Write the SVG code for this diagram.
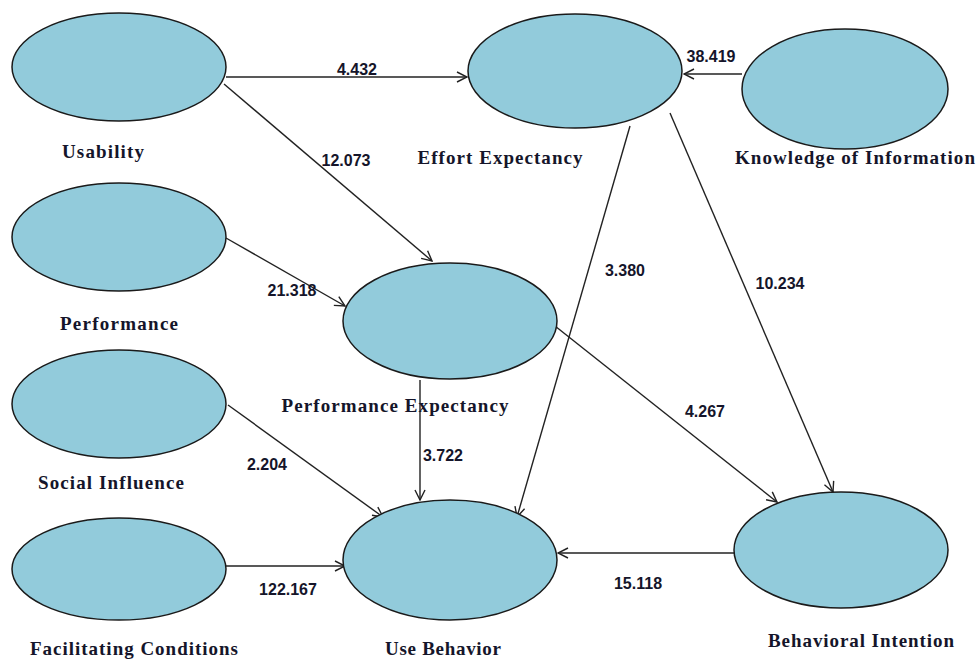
<svg xmlns="http://www.w3.org/2000/svg" width="979" height="660" viewBox="0 0 979 660">
<style>
.node ellipse{fill:#92cbdb;stroke:#1a1a1a;stroke-width:1.5}
.name{font-family:"Liberation Serif",serif;font-weight:bold;font-size:19px;fill:#15152a;text-anchor:middle}
.num{font-family:"Liberation Sans",sans-serif;font-weight:bold;font-size:16px;fill:#15152a;text-anchor:middle}
.edge line{stroke:#222;stroke-width:1.4;marker-end:url(#arr)}
</style>
<defs>
<marker id="arr" viewBox="0 0 12 12" refX="11" refY="6" markerWidth="12" markerHeight="12" markerUnits="userSpaceOnUse" orient="auto">
<path d="M1,1 L11,6 L1,11" fill="none" stroke="#222" stroke-width="1.4"/>
</marker>
</defs>
<rect width="979" height="660" fill="#fff"/>
<g id="connectors" class="edge">
<line x1="226" y1="77" x2="467" y2="77"/>
<line x1="224" y1="84" x2="432" y2="261"/>
<line x1="226" y1="238" x2="345" y2="306"/>
<line x1="742" y1="74" x2="684" y2="74"/>
<line x1="630" y1="126" x2="517" y2="517"/>
<line x1="670" y1="113" x2="833" y2="492"/>
<line x1="555" y1="326" x2="777" y2="502"/>
<line x1="420" y1="380" x2="420" y2="500"/>
<line x1="228" y1="405" x2="383" y2="517"/>
<line x1="226" y1="566" x2="345" y2="566"/>
<line x1="734" y1="553" x2="558" y2="553"/>
</g>
<g id="labels-edges">
<text class="num" x="357" y="75">4.432</text>
<text class="num" x="346" y="166">12.073</text>
<text class="num" x="292" y="296">21.318</text>
<text class="num" x="711" y="62">38.419</text>
<text class="num" x="625" y="276">3.380</text>
<text class="num" x="780" y="289">10.234</text>
<text class="num" x="705" y="417">4.267</text>
<text class="num" x="443" y="461">3.722</text>
<text class="num" x="267" y="470">2.204</text>
<text class="num" x="288" y="595">122.167</text>
<text class="num" x="638" y="589">15.118</text>
</g>
<g id="usability" class="node"><ellipse cx="119" cy="67" rx="107" ry="54"/><text class="name" x="103" y="158" textLength="82">Usability</text></g>
<g id="effort" class="node"><ellipse cx="575" cy="71" rx="107" ry="57"/><text class="name" x="500" y="164" textLength="165">Effort Expectancy</text></g>
<g id="knowledge" class="node"><ellipse cx="845" cy="89" rx="103" ry="60"/><text class="name" x="855" y="164" textLength="240">Knowledge of Information</text></g>
<g id="performance" class="node"><ellipse cx="119" cy="237" rx="107" ry="54"/><text class="name" x="119" y="330" textLength="118">Performance</text></g>
<g id="perfexp" class="node"><ellipse cx="450" cy="321" rx="107" ry="58"/><text class="name" x="395" y="412" textLength="227">Performance Expectancy</text></g>
<g id="social" class="node"><ellipse cx="119" cy="404" rx="107" ry="54"/><text class="name" x="111" y="489" textLength="146">Social Influence</text></g>
<g id="facilitating" class="node"><ellipse cx="119" cy="569" rx="107" ry="51"/><text class="name" x="134" y="655" textLength="208">Facilitating Conditions</text></g>
<g id="use" class="node"><ellipse cx="450" cy="560" rx="107" ry="60"/><text class="name" x="443" y="655" textLength="116">Use Behavior</text></g>
<g id="behavioral" class="node"><ellipse cx="841" cy="550" rx="107" ry="58"/><text class="name" x="861" y="647" textLength="186">Behavioral Intention</text></g>
</svg>
